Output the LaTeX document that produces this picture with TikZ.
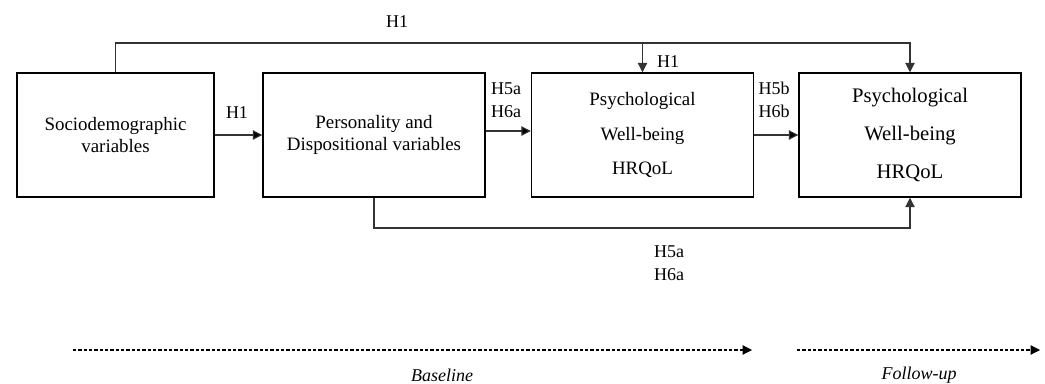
\documentclass[tikz,border=0pt]{standalone}
\usepackage{fontspec}
\setmainfont{Liberation Serif}
\usetikzlibrary{arrows.meta}

\begin{document}
\begin{tikzpicture}
  [x=0.75pt,y=-0.75pt,
   box/.style={draw,line width=1.1pt,minimum width=166.5pt,minimum height=93pt,align=center,inner sep=0pt,font=\fontsize{14.2}{16.5}\selectfont},
   lbl/.style={align=center,inner sep=0pt,font=\fontsize{13.5}{17}\selectfont},
   link/.style={draw=black!80,line width=0.8pt},
   tip/.style={-{Triangle[length=7pt,width=7pt]}},
   timeline/.style={draw=black,line width=0.8pt,dash pattern=on 2.5pt off 1.5pt}]
  \useasboundingbox (0,0) rectangle (1045,383);

  \node[box,minimum width=148pt] (socio) at (115.5,135) {Sociodemographic\\variables};
  \node[box] (pers) at (374,135) {Personality and\\Dispositional variables};
  \node[box,font=\fontsize{14.2}{26}\selectfont] (pwb1) at (642.5,135) {Psychological\\Well-being\\HRQoL};
  \node[box,font=\fontsize{15.5}{28.5}\selectfont] (pwb2) at (910,135) {Psychological\\Well-being\\HRQoL};

  \coordinate (rail) at (0,43);
  \coordinate (floor) at (0,228);

\path[link]
    (socio) edge[tip] (pers)
    ([yshift=3pt]pers.east) edge[tip] ([yshift=3pt]pwb1.west)
    (pwb1) edge[tip] (pwb2)
    ;
  \draw[link,tip] (socio.north) |- (rail -| pwb2) -- (pwb2.north);
  \draw[link,tip] (rail -| pwb1) -- (pwb1.north);
  \draw[link,tip] (pers.south) |- (floor -| pwb2) -- (pwb2.south);

  \node[lbl] (h1top) at (397,22) {H1};
  \node[lbl] (h1mid) at (668,62) {H1};
  \node[lbl] (h1left) at (237,113) {H1};
  \node[lbl] (h5a) at (506,100) {H5a\\H6a};
  \node[lbl] (h5b) at (774,100) {H5b\\H6b};
  \node[lbl] (h5alow) at (669,263) {H5a\\H6a};

  \coordinate (b0) at (73,350);
  \coordinate (b1) at (752,350);
  \coordinate (f0) at (797,350);
  \coordinate (f1) at (1040,350);
  \draw[timeline,tip] (b0) -- (b1);
  \draw[timeline,tip] (f0) -- (f1);
  \node[lbl,font=\fontsize{13.5}{17}\selectfont\itshape] (base) at (442,375) {Baseline};
  \node[lbl,font=\fontsize{13.5}{17}\selectfont\itshape] (follow) at (919,375) {Follow-up};

\end{tikzpicture}
\end{document}
